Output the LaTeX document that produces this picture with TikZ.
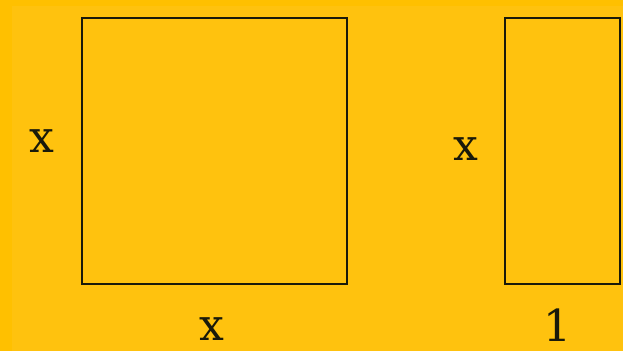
\documentclass[tikz,border=0pt]{standalone}
\usepackage{fontspec}
\setmainfont{DejaVu Serif}
\definecolor{bgout}{HTML}{FFC000}
\definecolor{bgin}{HTML}{FFC20E}
\definecolor{ink}{HTML}{1A1A0A}
\begin{document}
\begin{tikzpicture}[x=1pt,y=-1pt,
  shapebox/.style={draw=ink,line width=2.2pt},
  lbl/.style={font=\fontsize{44}{44}\selectfont,text=ink,inner sep=0pt}]
\useasboundingbox (0,0) rectangle (623,351);
\fill[bgout] (0,0) rectangle (623,351);
\fill[bgin] (12,6) rectangle (623,351);
\node[shapebox,minimum width=265pt,minimum height=266pt,anchor=north west,inner sep=0pt] (sq) at (80.5,17) {};
\node[shapebox,minimum width=115pt,minimum height=266pt,anchor=north west,inner sep=0pt] (rc) at (504,17) {};
\node[lbl] (sqx) at (42,141) {x};
\node[lbl] (sqb) at (212,329) {x};
\node[lbl] (rcx) at (466,149) {x};
\node[lbl] (rcb) at (557,325) {1};
\end{tikzpicture}
\end{document}
